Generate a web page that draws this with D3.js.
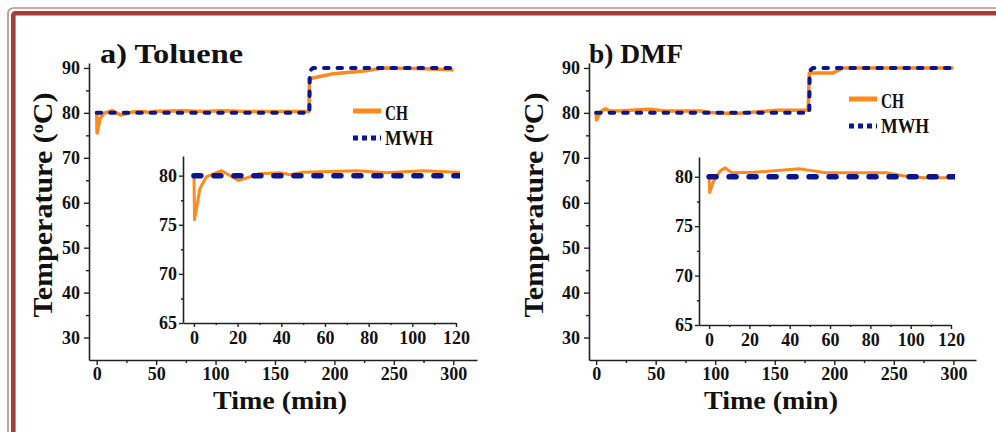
<!DOCTYPE html>
<html>
<head>
<meta charset="utf-8">
<script src="https://cdn.jsdelivr.net/npm/d3@7"></script>
<style>
  body { margin: 0; background: #fff; }
  svg text { font-family: "Liberation Serif", "DejaVu Serif", serif; font-weight: bold; fill: #111; }
  .axis .domain { stroke: #222; stroke-width: 1.6; }
  .axis .tick line { stroke: #222; stroke-width: 1.4; }
</style>
</head>
<body>
<svg id="chart" width="996" height="432"></svg>
<script>
// a) Toluene - conventional heating (CH) vs microwave heating (MWH)
const tolueneCHTime = [0, 0.3, 2.75, 5.8, 12.7, 20.3, 30, 39.4, 44, 50, 74.6, 88.4, 105, 120, 140, 160, 178.5, 179, 199, 227, 241, 270, 300];
const tolueneCHTemp = [80, 75.5, 78.7, 79.9, 80.5, 79.5, 80.2, 80.3, 80.1, 80.35, 80.5, 80.3, 80.5, 80.35, 80.3, 80.3, 80.3, 87.6, 88.7, 89.4, 90, 89.9, 89.6];
const tolueneMWHTime = [0, 179, 179.3, 182, 300];
const tolueneMWHTemp = [80, 80, 89.3, 90, 90];

// b) DMF
const dmfCHTime = [0, 0.3, 2.1, 5.5, 8, 11.2, 22, 45, 58, 88, 96, 106, 120, 152, 178, 179, 199, 207, 300];
const dmfCHTemp = [80, 78.4, 79.5, 80.6, 80.9, 80.4, 80.45, 80.8, 80.4, 80.4, 80.1, 79.9, 79.9, 80.6, 80.6, 88.9, 88.9, 90, 90];
const dmfMWHTime = [0, 179, 179.3, 182, 300];
const dmfMWHTemp = [80, 80, 89.3, 90, 90];

const mainXTicks = [0, 50, 100, 150, 200, 250, 300];
const mainXMinor = [25, 75, 125, 175, 225, 275];
const mainYTicks = [30, 40, 50, 60, 70, 80, 90];
const mainYMinor = [35, 45, 55, 65, 75, 85];
const insetXTicks = [0, 20, 40, 60, 80, 100, 120];
const insetXMinor = [10, 30, 50, 70, 90, 110];
const insetYTicks = [65, 70, 75, 80];
const insetYMinor = [67.5, 72.5, 77.5];

const seriesNames = ['CH', 'MWH'];
const chColor = '#ff8a1f';
const mwhColor = '#0b1590';

const panels = [
  {
    title: 'a) Toluene', titleX: 100, titleLen: 143,
    ch: d3.zip(tolueneCHTime, tolueneCHTemp), mwh: d3.zip(tolueneMWHTime, tolueneMWHTemp),
    mainX: [89, 477], mainDom: [-6.5, 320],
    insetX: [183, 456], insetY: [323, 156],
    yTitleX: 52, xTitleX: 280, legend: [353, 111]
  },
  {
    title: 'b) DMF', titleX: 589, titleLen: 94,
    ch: d3.zip(dmfCHTime, dmfCHTemp), mwh: d3.zip(dmfMWHTime, dmfMWHTemp),
    mainX: [589, 976], mainDom: [-6, 319],
    insetX: [699, 951], insetY: [325, 157],
    yTitleX: 543, xTitleX: 771, legend: [849, 99]
  }
];

const svg = d3.select('#chart');

// page frame (double red rule on top and left)
svg.append('rect').attr('x', 8).attr('y', 8).attr('width', 1200).attr('height', 1000).attr('rx', 5)
  .attr('fill', 'none').attr('stroke', '#c98886').attr('stroke-width', 1.6);
svg.append('rect').attr('x', 13.3).attr('y', 13.3).attr('width', 1200).attr('height', 1000).attr('rx', 2)
  .attr('fill', 'none').attr('stroke', '#a13f3d').attr('stroke-width', 4.6);

function addAxis(g, axisFn, scale, major, minor, size, pad, translate) {
  const a = g.append('g').attr('class', 'axis').attr('transform', translate);
  a.call(axisFn(scale).tickValues(major).tickSize(size).tickPadding(pad).tickSizeOuter(0));
  const m = g.append('g').attr('class', 'axis').attr('transform', translate);
  m.call(axisFn(scale).tickValues(minor).tickSize(size - 2).tickFormat('').tickSizeOuter(0));
  m.select('.domain').remove();
  a.selectAll('.tick text').style('font-size', '18px').style('font-family', '"Liberation Serif", serif').style('font-weight', 'bold');
  return a;
}

panels.forEach((p, pi) => {
  const g = svg.append('g');
  const x = d3.scaleLinear().domain(p.mainDom).range(p.mainX);
  const y = d3.scaleLinear().domain([25, 91.1]).range([360, 63]);

  addAxis(g, d3.axisLeft, y, mainYTicks, mainYMinor, 5, 4, `translate(${p.mainX[0]},0)`);
  addAxis(g, d3.axisBottom, x, mainXTicks, mainXMinor, 5, 2, `translate(0,360)`);

  const line = d3.line().x(d => x(d[0])).y(d => y(d[1]));
  g.append('path').datum(p.ch).attr('d', line).attr('fill', 'none')
    .attr('stroke', chColor).attr('stroke-width', 3.5).attr('stroke-linejoin', 'round');
  g.append('path').datum(p.mwh).attr('d', line).attr('fill', 'none')
    .attr('stroke', mwhColor).attr('stroke-width', 4).attr('stroke-linecap', 'round')
    .attr('stroke-dasharray', '4.5 9').attr('stroke-linejoin', 'round');

  // inset: first 120 minutes
  const xi = d3.scaleLinear().domain([-5, 120]).range(p.insetX);
  const yi = d3.scaleLinear().domain([65, 82]).range(p.insetY);
  addAxis(g, d3.axisLeft, yi, insetYTicks, insetYMinor, 4, 2, `translate(${p.insetX[0]},0)`);
  addAxis(g, d3.axisBottom, xi, insetXTicks, insetXMinor, 4, 4, `translate(0,${p.insetY[0]})`);

  const clipId = 'inset-clip-' + pi;
  svg.append('clipPath').attr('id', clipId).append('rect')
    .attr('x', p.insetX[0] + 1).attr('y', p.insetY[1])
    .attr('width', xi(120) - p.insetX[0] + 3).attr('height', p.insetY[0] - p.insetY[1]);
  const lineI = d3.line().x(d => xi(d[0])).y(d => yi(d[1]));
  const ig = g.append('g').attr('clip-path', `url(#${clipId})`);
  ig.append('path').datum(p.ch).attr('d', lineI).attr('fill', 'none')
    .attr('stroke', chColor).attr('stroke-width', 3).attr('stroke-linejoin', 'round');
  ig.append('path').datum(p.mwh).attr('d', lineI).attr('fill', 'none')
    .attr('stroke', mwhColor).attr('stroke-width', 5.5).attr('stroke-linecap', 'round')
    .attr('stroke-dasharray', '7 13');

  // titles
  g.append('text').attr('x', p.titleX).attr('y', 63).attr('font-size', 28)
    .attr('textLength', p.titleLen).attr('lengthAdjust', 'spacingAndGlyphs').text(p.title);

  const yt = g.append('text').attr('transform', `translate(${p.yTitleX},205) rotate(-90)`)
    .attr('text-anchor', 'middle').attr('font-size', 28)
    .attr('textLength', 225).attr('lengthAdjust', 'spacingAndGlyphs');
  yt.append('tspan').text('Temperature (');
  yt.append('tspan').attr('font-size', 17).attr('dy', -9).text('o');
  yt.append('tspan').attr('dy', 9).text('C)');

  g.append('text').attr('x', p.xTitleX).attr('y', 409).attr('text-anchor', 'middle')
    .attr('font-size', 25).attr('textLength', 134).attr('lengthAdjust', 'spacingAndGlyphs')
    .text('Time (min)');

  // legend
  const [lx, ly] = p.legend;
  const lg = g.append('g');
  lg.append('line').attr('x1', lx).attr('x2', lx + 28).attr('y1', ly).attr('y2', ly)
    .attr('stroke', chColor).attr('stroke-width', 5);
  lg.append('line').attr('x1', lx).attr('x2', lx + 28).attr('y1', ly + 27).attr('y2', ly + 27)
    .attr('stroke', mwhColor).attr('stroke-width', 5).attr('stroke-dasharray', '5 4');
  lg.append('text').attr('x', lx + 32).attr('y', ly + 9).attr('font-size', 21)
    .attr('textLength', 23).attr('lengthAdjust', 'spacingAndGlyphs').text(seriesNames[0]);
  lg.append('text').attr('x', lx + 32).attr('y', ly + 34).attr('font-size', 21)
    .attr('textLength', 48).attr('lengthAdjust', 'spacingAndGlyphs').text(seriesNames[1]);
});
</script>
</body>
</html>
